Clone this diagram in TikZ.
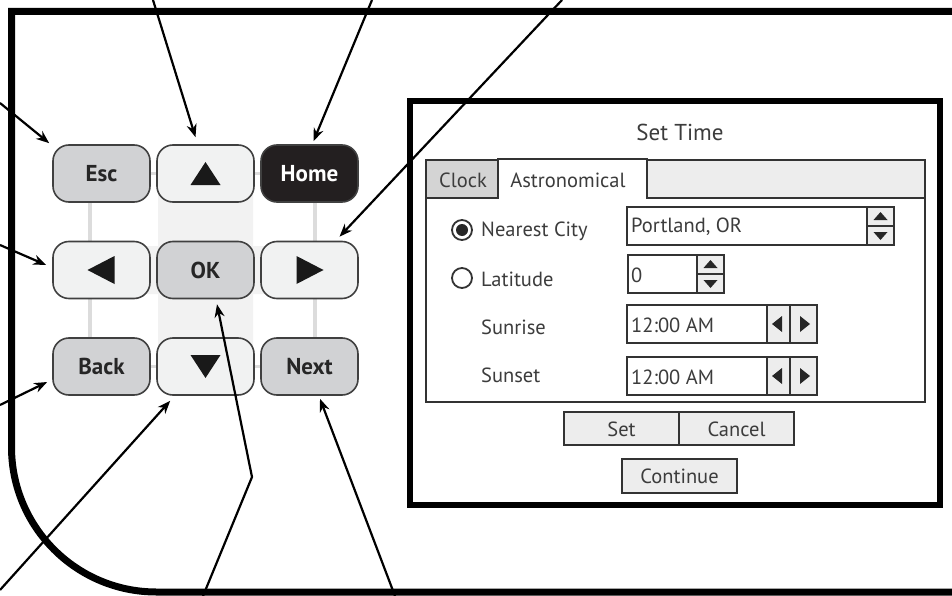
\documentclass[tikz,border=0pt]{standalone}
\usepackage{fontspec}
\setmainfont{PT Sans}
\usetikzlibrary{arrows.meta,calc}
\definecolor{keydark}{HTML}{231F20}
\definecolor{keymid}{HTML}{D1D2D4}
\definecolor{keylight}{HTML}{F1F2F2}
\definecolor{uifill}{HTML}{EDEDED}
\definecolor{uitab}{HTML}{D4D4D4}
\definecolor{txt}{HTML}{3C3C3C}
\definecolor{padbg}{HTML}{F2F2F2}
\definecolor{padline}{HTML}{DCDCDC}
\tikzset{
  keybase/.style={draw=black!75, line width=1.6pt, rounded corners=16pt,
    minimum width=97pt, minimum height=57pt, inner sep=0pt,
    font=\bfseries\fontsize{23}{23}\selectfont, text=black!85},
  keygrey/.style={keybase, fill=keymid},
  keypale/.style={keybase, fill=keylight},
  keyblack/.style={keybase, fill=keydark, text=white},
  callout/.style={draw=black, line width=2.2pt, -{Stealth[length=13pt,width=10pt]}},
  ui/.style={draw=black!80, line width=1.8pt},
  dtext/.style={inner sep=0pt, text=txt, font=\fontsize{20.5}{20.5}\selectfont},
}
\begin{document}
\begin{tikzpicture}[x=1pt,y=-1pt]
\useasboundingbox (0,0) rectangle (952,596);
\fill[white] (0,0) rectangle (952,596);

% device frame
\draw[line width=7pt, line join=miter] (960,11.5) -- (11.5,11.5) -- (11.5,300)
  [rounded corners=145pt] -- (11.5,592) -- (960,592);

% keypad background
\fill[padbg, rounded corners=8pt] (158,150) rectangle (253,390);
\fill[padbg, rounded corners=8pt] (60,246) rectangle (350,294);
\draw[padline, line width=3.5pt] (90,173.5) -- (90,366.5);
\draw[padline, line width=3.5pt] (315,173.5) -- (315,366.5);
\draw[padline, line width=3.5pt] (101,173.5) -- (310,173.5);
\draw[padline, line width=3.5pt] (101,366.5) -- (310,366.5);

% keys
\node[keygrey]  (esc)   at (101.5,173.5) {Esc};
\node[keypale]  (up)    at (205.5,173.5) {};
\node[keyblack] (home)  at (309.5,173.5) {Home};
\node[keypale]  (left)  at (101.5,270)   {};
\node[keygrey]  (ok)    at (205.5,270)   {OK};
\node[keypale]  (right) at (309.5,270)   {};
\node[keygrey]  (back)  at (101.5,366.5) {Back};
\node[keypale]  (down)  at (205.5,366.5) {};
\node[keygrey]  (next)  at (309.5,366.5) {Next};

% triangles
\fill[black!90] ($(up)+(0,-11.5)$) -- ($(up)+(15,11.5)$) -- ($(up)+(-15,11.5)$) -- cycle;
\fill[black!90] ($(down)+(0,11.5)$) -- ($(down)+(15,-11.5)$) -- ($(down)+(-15,-11.5)$) -- cycle;
\fill[black!90] ($(left)+(-14,0)$) -- ($(left)+(13,-14)$) -- ($(left)+(13,14)$) -- cycle;
\fill[black!90] ($(right)+(14,0)$) -- ($(right)+(-13,-14)$) -- ($(right)+(-13,14)$) -- cycle;

% dialog
\draw[line width=6pt] (410,101) rectangle (940,505);
\node[dtext, font=\fontsize{23}{23}\selectfont] (title) at (680,132) {Set Time};
\draw[ui, fill=uifill] (426,160) rectangle (925,198);
\draw[ui, fill=white] (426,198) rectangle (925,402);
\draw[ui, fill=uitab] (426,160) rectangle (498,198);
\fill[white] (499,158) rectangle (646,199.5);
\draw[ui] (498,198) -- (498,159) -- (647,159) -- (647,198);
\node[dtext] (clock) at (463,180) {Clock};
\node[dtext] (astro) at (568,180) {Astronomical};

% radios
\draw[ui, line width=1.8pt, fill=white] (462,230) circle[radius=10];
\fill[black!85] (462,230) circle[radius=6];
\draw[ui, line width=1.8pt, fill=white] (462,278) circle[radius=10];
\node[dtext, anchor=west] (lcity) at (481,231) {Nearest City};
\node[dtext, anchor=west] (llat)  at (481,279) {Latitude};
\node[dtext, anchor=west] (lrise) at (481,327) {Sunrise};
\node[dtext, anchor=west] (lset)  at (481,375) {Sunset};

% city field
\draw[ui, fill=white] (627,207) rectangle (894,245);
\draw[ui, fill=uifill] (867,207) rectangle (894,245);
\draw[ui] (867,226) -- (894,226);
\fill[black!85] (880.5,212) -- (887.5,220) -- (873.5,220) -- cycle;
\fill[black!85] (880.5,240) -- (887.5,232) -- (873.5,232) -- cycle;
\node[dtext, anchor=west] (vcity) at (631,227) {Portland, OR};

% latitude field
\draw[ui, fill=white] (628,255) rectangle (724,293);
\draw[ui, fill=uifill] (697,255) rectangle (724,293);
\draw[ui] (697,274) -- (724,274);
\fill[black!85] (710.5,260) -- (717.5,268) -- (703.5,268) -- cycle;
\fill[black!85] (710.5,288) -- (717.5,280) -- (703.5,280) -- cycle;
\node[dtext, anchor=west] (vlat) at (631,275) {0};

% sunrise field
\draw[ui, fill=white] (627,305) rectangle (817,343);
\draw[ui, fill=uifill] (767,305) rectangle (790,343);
\draw[ui, fill=uifill] (790,305) rectangle (817,343);
\fill[black!85] (772,324) -- (782,316) -- (782,332) -- cycle;
\fill[black!85] (810,324) -- (800,316) -- (800,332) -- cycle;
\node[dtext, anchor=west] (vrise) at (631,325) {12:00 AM};

% sunset field
\draw[ui, fill=white] (627,357) rectangle (817,395);
\draw[ui, fill=uifill] (767,357) rectangle (790,395);
\draw[ui, fill=uifill] (790,357) rectangle (817,395);
\fill[black!85] (772,376) -- (782,368) -- (782,384) -- cycle;
\fill[black!85] (810,376) -- (800,368) -- (800,384) -- cycle;
\node[dtext, anchor=west] (vset) at (631,377) {12:00 AM};

% buttons
\draw[ui, fill=uifill] (564,412) rectangle (679,445);
\draw[ui, fill=uifill] (679,412) rectangle (794,445);
\node[dtext] (bset) at (621.5,429) {Set};
\node[dtext] (bcancel) at (736.5,429) {Cancel};
\draw[ui, fill=uifill] (622,459) rectangle (737,493);
\node[dtext] (bcont) at (679.5,476) {Continue};

% callouts
\coordinate (fup)    at (153,0);
\coordinate (fhome)  at (372,0);
\coordinate (fright) at (562,0);
\coordinate (fesc)   at (0,103);
\coordinate (fleft)  at (0,245);
\coordinate (fback)  at (0,405);
\coordinate (fdown)  at (0,590);
\coordinate (fok)    at (203,596);
\coordinate (fokbend) at (252,477);
\coordinate (fnext)  at (395,596);
\draw[callout] (fup) -- ([shift={(-10pt,7pt)}]up.north);
\draw[callout] (fhome) -- ([shift={(4pt,3pt)}]home.north);
\draw[callout] (fright) -- ([shift={(30pt,4pt)}]right.north);
\draw[callout] (fesc) -- ([shift={(-3pt,1pt)}]esc.north west);
\draw[callout] (fleft) -- ([shift={(-6pt,5pt)}]left.west);
\draw[callout] (fback) -- ([shift={(-5pt,-15.5pt)}]back.west);
\draw[callout] (fdown) -- ([shift={(14pt,-5pt)}]down.south west);
\draw[callout] (fok) -- (fokbend) -- ([shift={(11.5pt,-5pt)}]ok.south);
\draw[callout] (fnext) -- ([shift={(10.5pt,-3pt)}]next.south);
\end{tikzpicture}
\end{document}
